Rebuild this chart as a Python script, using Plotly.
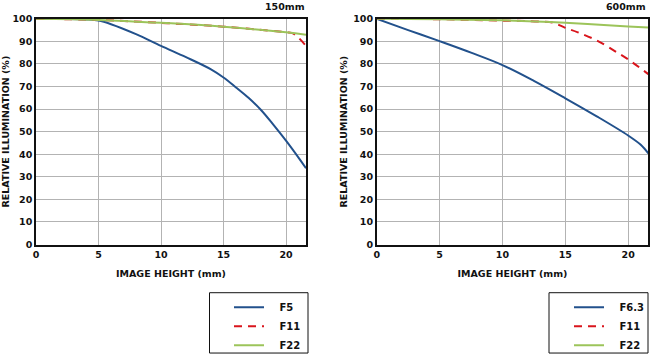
import plotly.graph_objects as go

# ---- data ----
# 150mm
x150_f5 = [0, 2, 4, 5, 6, 8, 10, 12, 14, 15, 16, 17, 18, 19, 20, 21, 21.6]
y150_f5 = [100, 100, 99.7, 99.2, 97.6, 93.2, 88, 83, 77.6, 74, 69.6, 65, 59.6, 53, 46, 38.5, 33.8]
x150_f11 = [0, 5, 10, 15, 20, 20.6, 21.6]
y150_f11 = [100, 99.5, 98.2, 96.5, 94, 93.4, 88]
x150_f22 = [0, 5, 10, 15, 20, 21.6]
y150_f22 = [100, 99.5, 98.2, 96.5, 94, 92.9]

# 600mm
x600_f63 = [0, 2.5, 5, 7.5, 10, 12.5, 15, 17.5, 20, 21, 21.6]
y600_f63 = [100, 95, 90.1, 85, 79.5, 72.5, 64.8, 56.8, 48.3, 44.2, 40.4]
x600_f11 = [0, 5, 10, 13, 14, 15, 16, 17.5, 19, 20, 21.6]
y600_f11 = [100, 99.8, 99.2, 98.8, 98.3, 96, 94, 90.4, 85.5, 82, 75.5]
x600_f22 = [0, 5, 10, 15, 20, 21.6]
y600_f22 = [100, 99.8, 99.3, 98.2, 96.6, 96.1]

focal_labels = ["150mm", "600mm"]
x_ticks = [0, 5, 10, 15, 20]
y_ticks = [0, 10, 20, 30, 40, 50, 60, 70, 80, 90, 100]

BLUE = "#22518c"
RED = "#d9151c"
GREEN = "#9cc45a"
FONT = "DejaVu Sans"
NB = "\u00a0\u00a0\u00a0"

W, H = 650, 360
fig = go.Figure()

def tr(x, y, name, color, dash, xa, ya, legend):
    fig.add_trace(go.Scatter(
        x=x, y=y, name=NB + name, mode="lines", line_shape="spline",
        line=dict(color=color, width=2, dash=dash),
        xaxis=xa, yaxis=ya, legend=legend))

tr(x150_f5, y150_f5, "F5", BLUE, "solid", "x", "y", "legend")
tr(x150_f11, y150_f11, "F11", RED, "8px,6px", "x", "y", "legend")
tr(x150_f22, y150_f22, "F22", GREEN, "solid", "x", "y", "legend")
tr(x600_f63, y600_f63, "F6.3", BLUE, "solid", "x2", "y2", "legend2")
tr(x600_f11, y600_f11, "F11", RED, "8px,6px", "x2", "y2", "legend2")
tr(x600_f22, y600_f22, "F22", GREEN, "solid", "x2", "y2", "legend2")

ydom = [(H - 247.3) / H, (H - 19) / H]
xd1 = [36 / W, 306 / W]
xd2 = [376.7 / W, 648.3 / W]

tickfont = dict(family=FONT, size=9.5, color="#111", weight="bold")
titlefont = dict(family=FONT, size=9.5, color="#111", weight="bold")

def xax(dom):
    return dict(domain=dom, range=[0, 21.6], tickvals=x_ticks, showgrid=True,
                gridcolor="#b3b3b3", gridwidth=1, zeroline=False, showline=True,
                linecolor="#111", linewidth=1.5, mirror=True, ticks="", automargin=False,
                tickfont=tickfont, title=dict(text="IMAGE HEIGHT (mm)", font=titlefont, standoff=12))

def yax(dom, anchor):
    return dict(domain=dom, range=[0, 100], tickvals=y_ticks, showgrid=True,
                gridcolor="#b3b3b3", gridwidth=1, zeroline=False, showline=True,
                linecolor="#111", linewidth=1.5, mirror=True, ticks="", anchor=anchor,
                automargin=False,
                tickfont=tickfont, title=dict(text="RELATIVE ILLUMINATION (%)", font=titlefont, standoff=4))

legstyle = dict(borderwidth=0, bgcolor="rgba(0,0,0,0)",
                font=dict(family=FONT, size=10, color="#111", weight="bold"),
                yanchor="top", xanchor="left", tracegroupgap=0, itemwidth=30)

shapes = [
    dict(type="rect", xref="paper", yref="paper", x0=209.5 / W, x1=308 / W,
         y0=(H - 357) / H, y1=(H - 296) / H, line=dict(color="#111", width=1)),
    dict(type="rect", xref="paper", yref="paper", x0=549 / W, x1=648 / W,
         y0=(H - 357) / H, y1=(H - 296) / H, line=dict(color="#111", width=1)),
]

fig.update_layout(
    width=W, height=H, margin=dict(l=0, r=0, t=0, b=0),
    paper_bgcolor="white", plot_bgcolor="white",
    xaxis=xax(xd1), yaxis=yax(ydom, "x"),
    xaxis2=dict(xax(xd2), anchor="y2"), yaxis2=yax(ydom, "x2"),
    legend=dict(legstyle, x=229 / W, y=(H - 296) / H),
    legend2=dict(legstyle, x=569 / W, y=(H - 296) / H),
    shapes=shapes,
    annotations=[
        dict(text=focal_labels[0], x=307 / W, y=1 - 6.5 / H, xref="paper", yref="paper",
             xanchor="right", yanchor="middle", showarrow=False, font=titlefont),
        dict(text=focal_labels[1], x=648 / W, y=1 - 6.5 / H, xref="paper", yref="paper",
             xanchor="right", yanchor="middle", showarrow=False, font=titlefont),
    ],
)

fig.write_html("out.html", config={"displayModeBar": False},
               post_script="document.body.style.margin='0';")
